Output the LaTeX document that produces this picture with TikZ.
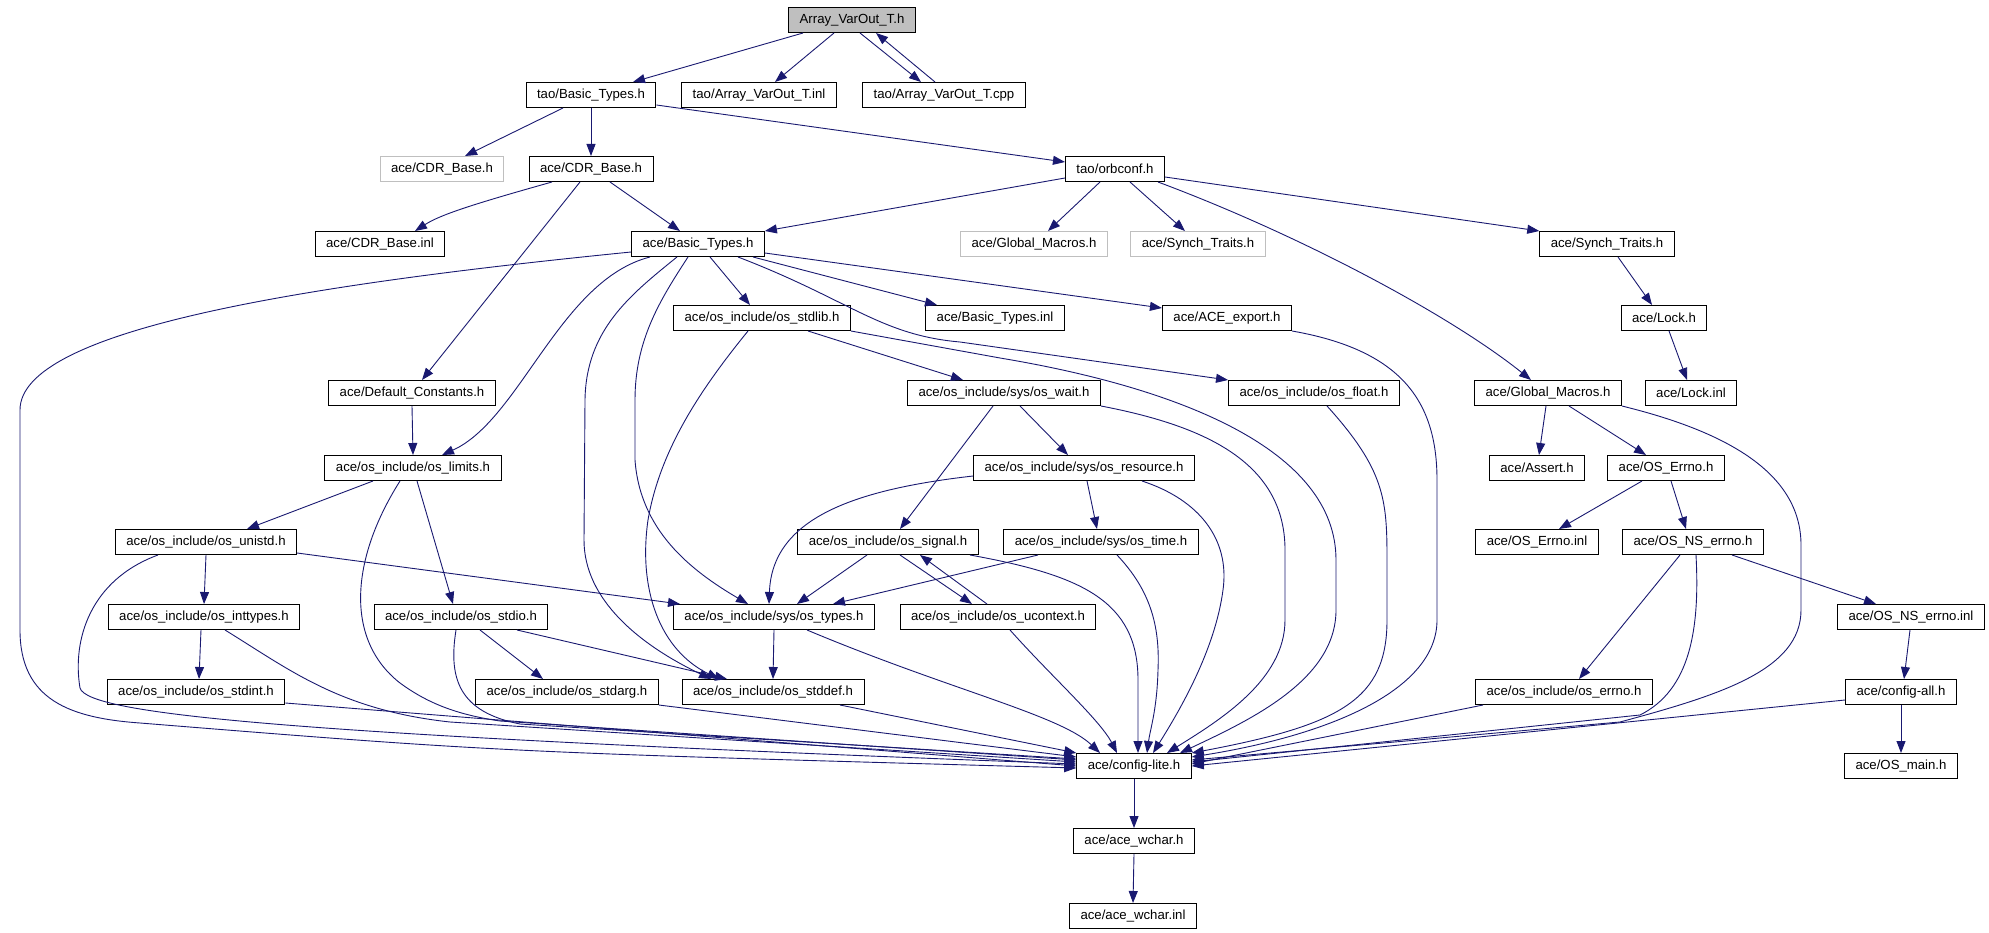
\documentclass[tikz,border=0pt]{standalone}
\usepackage{fontspec}
\setmainfont{Liberation Sans}
\usetikzlibrary{arrows.meta}
\definecolor{edgeblue}{HTML}{191970}
\definecolor{boxgrey}{HTML}{BFBFBF}

\begin{document}
\begin{tikzpicture}[x=1pt,y=-1pt,
  every node/.style={shape=rectangle,draw,line width=1pt,inner xsep=11pt,inner ysep=0pt,
    minimum height=25pt,font=\fontsize{13.2}{15}\selectfont},
  greyfile/.style={draw=boxgrey},
  topfile/.style={fill=boxgrey},
  dep/.style={color=edgeblue,line width=0.9pt,-{Triangle[length=12pt,width=9pt]}}
]
\useasboundingbox (0,0) rectangle (1989,933);

% files
\node (arrvar) [topfile] at (852,20) {Array\_VarOut\_T.h};
\node (taobt) at (591,95) {tao/Basic\_Types.h};
\node (taoinl) at (759,95) {tao/Array\_VarOut\_T.inl};
\node (taocpp) at (944,95) {tao/Array\_VarOut\_T.cpp};
\node (cdrgrey) [greyfile] at (442,169) {ace/CDR\_Base.h};
\node (cdr) at (591,169) {ace/CDR\_Base.h};
\node (orbconf) at (1115,169) {tao/orbconf.h};
\node (cdrinl) at (380,244) {ace/CDR\_Base.inl};
\node (acebt) at (698,244) {ace/Basic\_Types.h};
\node (gmgrey) [greyfile] at (1034,244) {ace/Global\_Macros.h};
\node (stgrey) [greyfile] at (1198,244) {ace/Synch\_Traits.h};
\node (synch) at (1607,244) {ace/Synch\_Traits.h};
\node (stdlib) at (762,318) {ace/os\_include/os\_stdlib.h};
\node (btinl) at (995,318) {ace/Basic\_Types.inl};
\node (export) at (1227,318) {ace/ACE\_export.h};
\node (lock) at (1664,318) {ace/Lock.h};
\node (defc) at (412,393) {ace/Default\_Constants.h};
\node (wait) at (1004,393) {ace/os\_include/sys/os\_wait.h};
\node (float) at (1314,393) {ace/os\_include/os\_float.h};
\node (gm) at (1548,393) {ace/Global\_Macros.h};
\node (lockinl) at (1691,393) {ace/Lock.inl};
\node (limits) at (413,468) {ace/os\_include/os\_limits.h};
\node (resource) at (1084,468) {ace/os\_include/sys/os\_resource.h};
\node (assert) at (1537,468) {ace/Assert.h};
\node (errno) at (1666,468) {ace/OS\_Errno.h};
\node (unistd) at (206,542) {ace/os\_include/os\_unistd.h};
\node (signal) at (888,542) {ace/os\_include/os\_signal.h};
\node (time) at (1101,542) {ace/os\_include/sys/os\_time.h};
\node (errnoinl) at (1537,542) {ace/OS\_Errno.inl};
\node (nserrno) at (1693,542) {ace/OS\_NS\_errno.h};
\node (inttypes) at (204,617) {ace/os\_include/os\_inttypes.h};
\node (stdio) at (461,617) {ace/os\_include/os\_stdio.h};
\node (types) at (774,617) {ace/os\_include/sys/os\_types.h};
\node (ucontext) at (998,617) {ace/os\_include/os\_ucontext.h};
\node (nsinl) at (1911,617) {ace/OS\_NS\_errno.inl};
\node (stdint) at (196,692) {ace/os\_include/os\_stdint.h};
\node (stdarg) at (567,692) {ace/os\_include/os\_stdarg.h};
\node (stddef) at (773,692) {ace/os\_include/os\_stddef.h};
\node (oserrno) at (1564,692) {ace/os\_include/os\_errno.h};
\node (cfgall) at (1901,692) {ace/config-all.h};
\node (clite) at (1134,766) {ace/config-lite.h};
\node (osmain) at (1901,766) {ace/OS\_main.h};
\node (wchar) at (1134,841) {ace/ace\_wchar.h};
\node (wcharinl) at (1133,916) {ace/ace\_wchar.inl};

% top part
\draw[dep] ([xshift=-49pt]arrvar.south) -- ([xshift=42pt]taobt.north);
\draw[dep] ([xshift=-18pt]arrvar.south) -- ([xshift=16pt]taoinl.north);
\draw[dep] ([xshift=8pt]arrvar.south) -- ([xshift=-23pt]taocpp.north);
\draw[dep] ([xshift=-9pt]taocpp.north) -- ([xshift=24pt]arrvar.south);
\draw[dep] ([xshift=-28pt]taobt.south) -- ([xshift=23pt]cdrgrey.north);
\draw[dep] (taobt.south) -- (cdr.north);
\draw[dep] ([yshift=-10pt]taobt.east) -- ([yshift=7pt]orbconf.west);
\draw[dep] ([xshift=-39pt]cdr.south) .. controls (470,205) and (440,215) .. ([xshift=35pt]cdrinl.north);
\draw[dep] ([xshift=19pt]cdr.south) -- ([xshift=-18pt]acebt.north);
\draw[dep] ([xshift=-11pt]cdr.south) -- ([xshift=10pt]defc.north);
\draw[dep] ([yshift=-9pt]orbconf.west) -- (acebt.north east);
\draw[dep] ([xshift=-15pt]orbconf.south) -- ([xshift=14pt]gmgrey.north);
\draw[dep] ([xshift=15pt]orbconf.south) -- ([xshift=-13pt]stgrey.north);
\draw[dep] ([yshift=-8pt]orbconf.east) -- (synch.north west);
\draw[dep] ([xshift=43pt]orbconf.south) .. controls (1300,235) and (1450,315) .. ([xshift=-17pt]gm.north);
\draw[dep] ([xshift=11pt]synch.south) -- ([xshift=-12pt]lock.north);
\draw[dep] ([xshift=5pt]lock.south) -- ([xshift=-4pt]lockinl.north);

% ace/Basic_Types.h
\draw[dep] ([yshift=-8pt]acebt.west) .. controls (300,285) and (20,330) .. (20,410) -- (20,630)
  .. controls (20,700) and (70,718) .. (140,723) .. controls (500,752) .. ([yshift=-2pt]clite.west);
\draw[dep] ([xshift=-48pt]acebt.south) .. controls (560,280) and (520,420) .. ([xshift=29pt]limits.north);
\draw[dep] ([xshift=-10pt]acebt.south) .. controls (660,300) and (635,340) .. (635,400) -- (635,460)
  .. controls (640,530) and (690,570) .. ([xshift=-26pt]types.north);
\draw[dep] ([xshift=-21pt]acebt.south) .. controls (630,295) and (586,330) .. (585,400) -- (584,540)
  .. controls (584,600) and (640,645) .. ([xshift=-62pt]stddef.north);
\draw[dep] ([xshift=12pt]acebt.south) -- ([xshift=-12pt]stdlib.north);
\draw[dep] ([xshift=40pt]acebt.south) .. controls (850,300) and (880,335) .. (960,342) -- (float.north west);
\draw[dep] ([xshift=55pt]acebt.south) -- ([xshift=-58pt]btinl.north);
\draw[dep] ([yshift=-9pt]acebt.east) -- ([yshift=10pt]export.west);

% os_stdlib.h, os_wait.h
\draw[dep] ([xshift=46pt]stdlib.south) -- ([xshift=-41pt]wait.north);
\draw[dep] ([xshift=-14pt]stdlib.south) .. controls (700,390) and (660,450) .. (648,520)
  .. controls (638,590) and (660,650) .. ([xshift=-54pt]stddef.north);
\draw[dep] (stdlib.south east) -- (1000,358) .. controls (1180,388) and (1336,450) .. (1336,560) -- (1336,610)
  .. controls (1336,680) and (1250,720) .. ([xshift=46pt]clite.north);
\draw[dep] ([xshift=16pt]wait.south) -- ([xshift=-16pt]resource.north);
\draw[dep] ([xshift=-11pt]wait.south) -- ([xshift=12pt]signal.north);
\draw[dep] (wait.south east) .. controls (1200,425) and (1285,460) .. (1285,550) -- (1285,620)
  .. controls (1285,680) and (1220,720) .. ([xshift=33pt]clite.north);

% os_resource.h, os_time.h, os_signal.h
\draw[dep] ([yshift=-8pt]resource.west) .. controls (850,490) and (772,520) .. ([xshift=-5pt]types.north);
\draw[dep] ([xshift=3pt]resource.south) -- ([xshift=-4pt]time.north);
\draw[dep] ([xshift=58pt]resource.south) .. controls (1200,500) and (1230,540) .. (1223,590)
  .. controls (1215,650) and (1180,710) .. ([xshift=19pt]clite.north);
\draw[dep] ([xshift=-63pt]time.south) -- ([xshift=59pt]types.north);
\draw[dep] ([xshift=16pt]time.south) .. controls (1150,590) and (1160,625) .. (1158,670)
  .. controls (1157,710) and (1150,730) .. ([xshift=13pt]clite.north);
\draw[dep] ([xshift=-21pt]signal.south) -- ([xshift=23pt]types.north);
\draw[dep] ([xshift=12pt]signal.south) -- ([xshift=-26pt]ucontext.north);
\draw[dep] ([xshift=-11pt]ucontext.north) -- ([xshift=32pt]signal.south);
\draw[dep] ([xshift=82pt]signal.south) .. controls (1080,575) and (1138,600) .. (1138,680) -- ([xshift=4pt]clite.north);
\draw[dep] ([xshift=12pt]ucontext.south) .. controls (1050,675) and (1100,720) .. ([xshift=-17pt]clite.north);
\draw[dep] (types.south) -- (stddef.north);
\draw[dep] ([xshift=33pt]types.south) .. controls (950,690) and (1060,715) .. ([xshift=-34pt]clite.north);

% left column
\draw[dep] (defc.south) -- (limits.north);
\draw[dep] ([xshift=-40pt]limits.south) -- ([xshift=41pt]unistd.north);
\draw[dep] ([xshift=4pt]limits.south) -- ([xshift=-8pt]stdio.north);
\draw[dep] ([xshift=-13pt]limits.south) .. controls (350,560) and (345,640) .. (400,683)
  .. controls (430,705) and (460,715) .. (500,721) -- ([yshift=6pt]clite.west);
\draw[dep] (unistd.south) -- (inttypes.north);
\draw[dep] ([yshift=-11pt]unistd.east) -- ([xshift=-94pt]types.north);
\draw[dep] ([xshift=-48pt]unistd.south) .. controls (90,580) and (72,640) .. (80,688)
  .. controls (88,715) and (300,735) .. ([yshift=2pt]clite.west);
\draw[dep] ([xshift=-3pt]inttypes.south) -- ([xshift=3pt]stdint.north);
\draw[dep] ([xshift=21pt]inttypes.south) .. controls (290,670) and (340,710) .. (450,722) -- ([yshift=4pt]clite.west);
\draw[dep] ([yshift=-11pt]stdint.east) -- (clite.west);
\draw[dep] ([xshift=19pt]stdio.south) -- ([xshift=-24pt]stdarg.north);
\draw[dep] ([xshift=56pt]stdio.south) -- ([xshift=-46pt]stddef.north);
\draw[dep] ([xshift=-5pt]stdio.south) .. controls (448,680) and (460,712) .. (520,724) -- ([yshift=7pt]clite.west);
\draw[dep] (stdarg.south east) -- ([yshift=9pt]clite.west);
\draw[dep] ([xshift=67pt]stddef.south) -- (clite.north west);

% right part
\draw[dep] ([xshift=13pt]float.south) .. controls (1385,470) and (1387,500) .. (1387,560) -- (1387,620)
  .. controls (1387,700) and (1340,725) .. (clite.north east);
\draw[dep] (export.south east) .. controls (1400,350) and (1437,400) .. (1437,480) -- (1437,620)
  .. controls (1437,690) and (1330,735) .. ([yshift=9pt]clite.east);
\draw[dep] ([xshift=-2pt]gm.south) -- ([xshift=2pt]assert.north);
\draw[dep] ([xshift=21pt]gm.south) -- ([xshift=-20pt]errno.north);
\draw[dep] (gm.south east) .. controls (1720,430) and (1801,470) .. (1801,545) -- (1801,610)
  .. controls (1801,670) and (1720,695) .. (1620,722) -- ([yshift=6pt]clite.east);
\draw[dep] ([xshift=-24pt]errno.south) -- ([xshift=22pt]errnoinl.north);
\draw[dep] ([xshift=5pt]errno.south) -- ([xshift=-7pt]nserrno.north);
\draw[dep] ([xshift=-13pt]nserrno.south) -- ([xshift=15pt]oserrno.north);
\draw[dep] ([xshift=3pt]nserrno.south) .. controls (1700,630) and (1690,690) .. (1640,715) -- ([yshift=4pt]clite.east);
\draw[dep] ([xshift=39pt]nserrno.south) -- ([xshift=-35pt]nsinl.north);
\draw[dep] ([xshift=-1pt]nsinl.south) -- ([xshift=3pt]cfgall.north);
\draw[dep] ([xshift=8pt]oserrno.south west) -- ([yshift=2pt]clite.east);
\draw[dep] ([yshift=-8pt]cfgall.west) -- (clite.east);
\draw[dep] (cfgall.south) -- (osmain.north);

% bottom
\draw[dep] (clite.south) -- (wchar.north);
\draw[dep] (wchar.south) -- (wcharinl.north);
\end{tikzpicture}
\end{document}
